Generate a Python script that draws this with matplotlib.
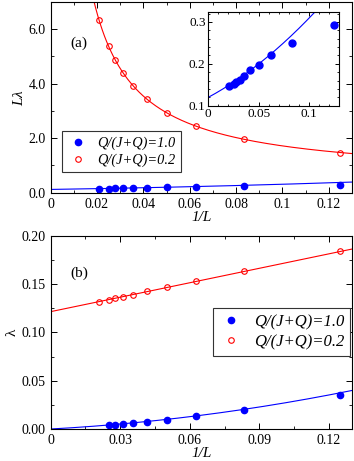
import numpy as np
import matplotlib
matplotlib.use("Agg")
import matplotlib.pyplot as plt
from matplotlib.ticker import MultipleLocator

plt.rcParams['font.family'] = ['Liberation Serif', 'DejaVu Serif']
plt.rcParams['mathtext.fontset'] = 'custom'
plt.rcParams['mathtext.rm'] = 'Liberation Serif'
plt.rcParams['mathtext.it'] = 'Liberation Serif:italic'

# 1/L for L = 48, 40, 36, 32, 28, 24, 20, 16, 12, 8
inv_L = [1/48, 1/40, 1/36, 1/32, 1/28, 1/24, 1/20, 1/16, 1/12, 1/8]

# panel (a): L*lambda
Llam_q10 = [0.148, 0.151, 0.157, 0.162, 0.171, 0.185, 0.198, 0.221, 0.249, 0.292]
Llam_q02 = [6.34, 5.36, 4.87, 4.38, 3.92, 3.43, 2.91, 2.45, 1.96, 1.45]

# panel (b): lambda
inv_L_b_q10 = [1/40, 1/36, 1/32, 1/28, 1/24, 1/20, 1/16, 1/12, 1/8]
lam_q10 = [0.0042, 0.0045, 0.0050, 0.0060, 0.0077, 0.0095, 0.0132, 0.0200, 0.0355]
lam_q02 = [0.132, 0.134, 0.1355, 0.137, 0.139, 0.1425, 0.147, 0.1535, 0.164, 0.184]

# fit coefficients (polynomials in 1/L)
fit_q10_Llam = [0.12, 1.30, 5.96]      # L*lambda = c0 + c1 x + c2 x^2
fit_q10_lam = [0.0, 0.1317, 1.35]      # lambda = c1 x + c2 x^2
fit_q02_lam = [0.1216, 0.499]          # lambda = a + b x

lab1 = 'Q/(J+Q)=1.0'
lab2 = 'Q/(J+Q)=0.2'
blue = '#0000ff'
red = '#ff0000'

def poly(c, x):
    return sum(ci * x**i for i, ci in enumerate(c))

xf = np.linspace(1e-4, 0.13, 400)

fig = plt.figure(figsize=(3.54, 4.61), dpi=100)
ax1 = fig.add_axes([0.1432, 0.582, 0.8512, 0.4143])
ax2 = fig.add_axes([0.1432, 0.0694, 0.8512, 0.4187])
axin = fig.add_axes([0.5884, 0.7707, 0.3706, 0.2043])

def style(ax, fs=10):
    ax.tick_params(which='both', direction='in', top=True, right=True, labelsize=fs)
    ax.tick_params(which='major', length=4, width=0.7)
    ax.tick_params(which='minor', length=2, width=0.6)
    for s in ax.spines.values():
        s.set_linewidth(0.8)

# ---- panel (a)
ax1.plot(xf, poly(fit_q10_Llam, xf), color=blue, lw=0.8)
ax1.plot(xf, fit_q02_lam[0] / xf + fit_q02_lam[1], color=red, lw=0.8)
ax1.plot(inv_L, Llam_q10, 'o', color=blue, ms=4.5, mec=blue, label=lab1)
ax1.plot(inv_L, Llam_q02, 'o', mfc='none', mec=red, ms=4.0, mew=0.8, label=lab2)
ax1.set_xlim(0, 0.13)
ax1.set_ylim(0, 7)
ax1.set_xticks([0, 0.02, 0.04, 0.06, 0.08, 0.1, 0.12])
ax1.set_xticklabels(['0', '0.02', '0.04', '0.06', '0.08', '0.1', '0.12'])
ax1.set_yticks([0, 2, 4, 6])
ax1.set_yticklabels(['0.0', '2.0', '4.0', '6.0'])
ax1.xaxis.set_minor_locator(MultipleLocator(0.01))
ax1.yaxis.set_minor_locator(MultipleLocator(1.0))
style(ax1)
ax1.set_xlabel('1/L', fontsize=11, style='italic', labelpad=0)
ax1.set_ylabel(r'$L\lambda$', fontsize=11, labelpad=2)
ax1.text(0.064, 0.784, '(a)', transform=ax1.transAxes, fontsize=11, va='center')
leg = ax1.legend(loc='lower left', bbox_to_anchor=(0.0375, 0.108), borderaxespad=0,
                 prop={'style': 'italic', 'size': 10.4}, fancybox=False,
                 edgecolor='#333333', framealpha=1, handletextpad=0.6,
                 handlelength=1.5, borderpad=0.35, labelspacing=0.25)
leg.get_frame().set_linewidth(0.8)

# ---- inset
axin.plot(xf, poly(fit_q10_Llam, xf), color=blue, lw=0.8)
axin.plot(inv_L, Llam_q10, 'o', color=blue, ms=5)
axin.set_xlim(0, 0.13)
axin.set_ylim(0.1, 0.325)
axin.set_xticks([0, 0.05, 0.1])
axin.set_xticklabels(['0', '0.05', '0.1'])
axin.set_yticks([0.1, 0.2, 0.3])
axin.set_yticklabels(['0.1', '0.2', '0.3'])
axin.xaxis.set_minor_locator(MultipleLocator(0.01))
axin.yaxis.set_minor_locator(MultipleLocator(0.02))
style(axin, fs=9.5)
axin.tick_params(which='major', length=3, pad=2)
axin.tick_params(which='minor', length=1.5)

# ---- panel (b)
ax2.plot(xf, poly(fit_q10_lam, xf), color=blue, lw=0.8)
ax2.plot(xf, poly(fit_q02_lam, xf), color=red, lw=0.8)
ax2.plot(inv_L_b_q10, lam_q10, 'o', color=blue, ms=4.5, label=lab1)
ax2.plot(inv_L, lam_q02, 'o', mfc='none', mec=red, ms=4.0, mew=0.8, label=lab2)
ax2.set_xlim(0, 0.13)
ax2.set_ylim(0, 0.2)
ax2.set_xticks([0, 0.03, 0.06, 0.09, 0.12])
ax2.set_xticklabels(['0', '0.03', '0.06', '0.09', '0.12'])
ax2.set_yticks([0, 0.05, 0.10, 0.15, 0.20])
ax2.set_yticklabels(['0.00', '0.05', '0.10', '0.15', '0.20'])
ax2.xaxis.set_minor_locator(MultipleLocator(0.015))
ax2.yaxis.set_minor_locator(MultipleLocator(0.025))
style(ax2)
ax2.set_xlabel('1/L', fontsize=11, style='italic', labelpad=0)
ax2.set_ylabel('λ', fontsize=11, labelpad=2)
ax2.text(0.064, 0.808, '(b)', transform=ax2.transAxes, fontsize=11, va='center')
leg2 = ax2.legend(loc='lower right', bbox_to_anchor=(0.993, 0.378), borderaxespad=0,
                  prop={'style': 'italic', 'size': 12}, fancybox=False,
                  edgecolor='#333333', framealpha=1, handletextpad=0.6,
                  handlelength=1.5, borderpad=0.35, labelspacing=0.25)
leg2.get_frame().set_linewidth(0.8)

fig.savefig('out.png', dpi=100)
